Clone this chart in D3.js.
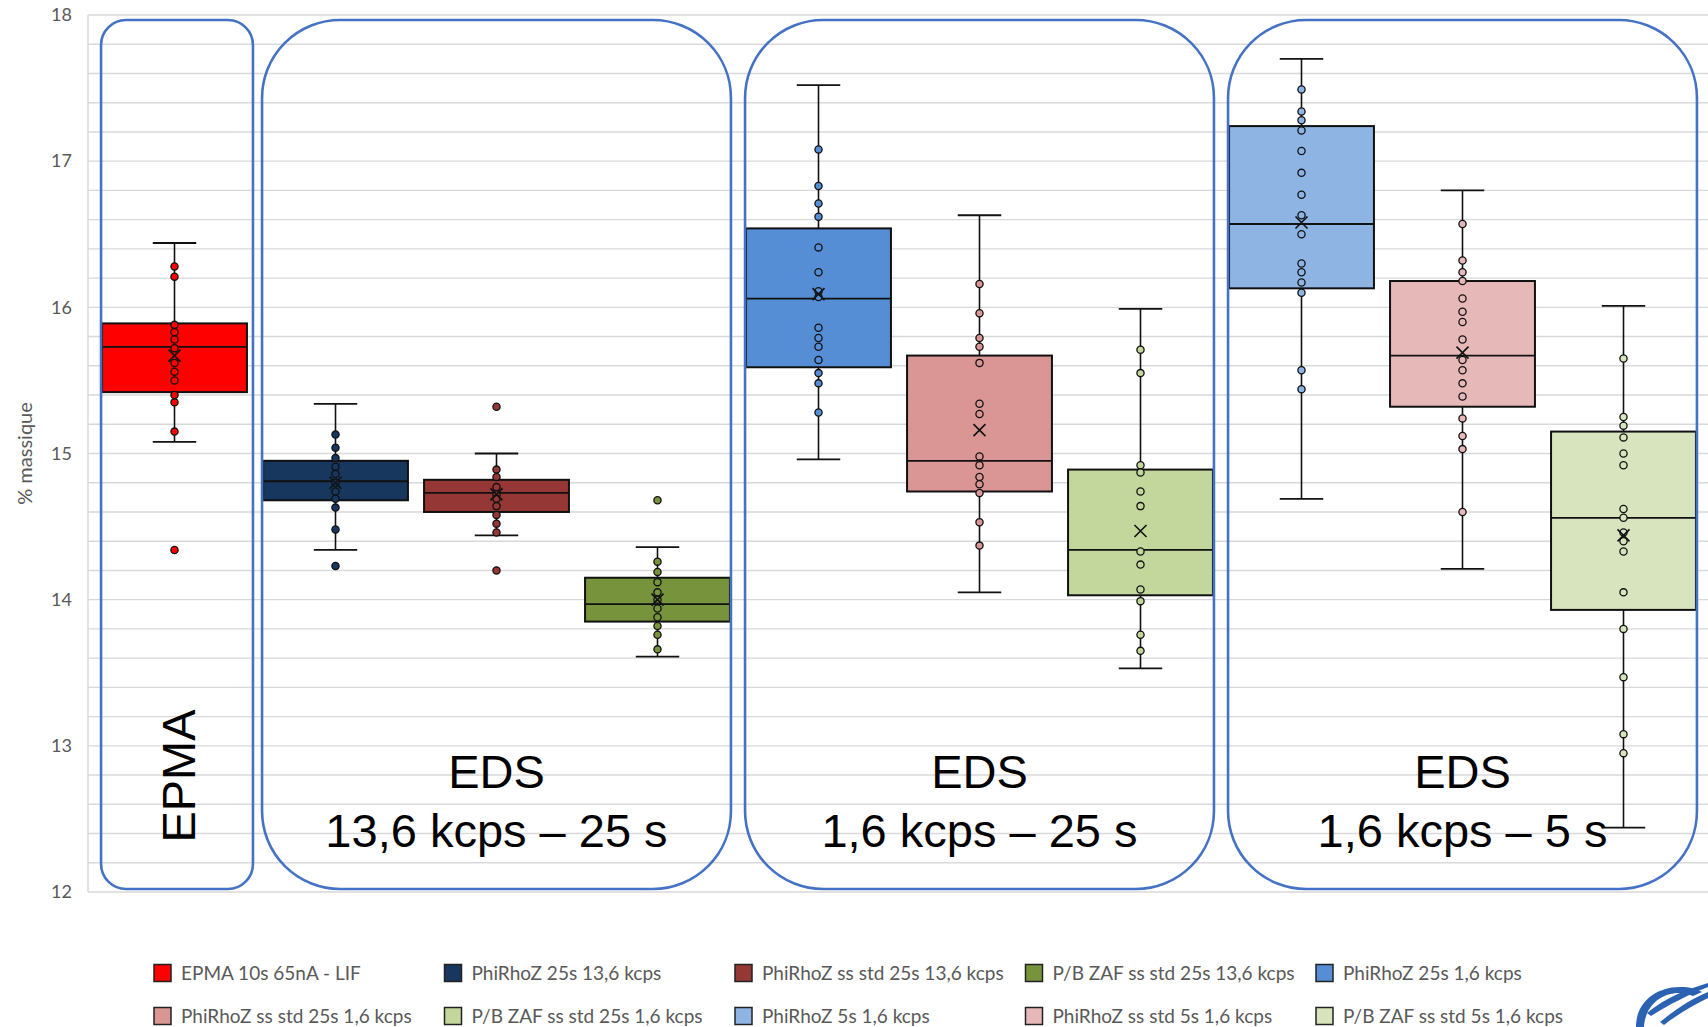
<!DOCTYPE html>
<html>
<head>
<meta charset="utf-8">
<script src="https://cdn.jsdelivr.net/npm/d3@7"></script>
<style>
  body { margin: 0; background: #fff; }
  svg { display: block; }
</style>
</head>
<body>
<div id="chart"></div>
<script>
// series, in the order of the legend
const series = [
  "EPMA 10s 65nA - LIF",
  "PhiRhoZ 25s 13,6 kcps",
  "PhiRhoZ ss std 25s 13,6 kcps",
  "P/B ZAF ss std 25s 13,6 kcps",
  "PhiRhoZ 25s 1,6 kcps",
  "PhiRhoZ ss std 25s 1,6 kcps",
  "P/B ZAF ss std 25s 1,6 kcps",
  "PhiRhoZ 5s 1,6 kcps",
  "PhiRhoZ ss std 5s 1,6 kcps",
  "P/B ZAF ss std 5s 1,6 kcps"
]
const colors = ["#FF0000", "#17375E", "#953735", "#77933C", "#558ED5",
                "#D99694", "#C3D69B", "#8EB4E3", "#E6B9B8", "#D7E4BD"]

// box statistics (% massique)
const whisker_low  = [15.08, 14.34, 14.44, 13.61, 14.96, 14.05, 13.53, 14.69, 14.21, 12.44]
const q1           = [15.42, 14.68, 14.60, 13.85, 15.59, 14.74, 14.03, 16.13, 15.32, 13.93]
const median       = [15.73, 14.81, 14.73, 13.97, 16.06, 14.95, 14.34, 16.57, 15.67, 14.56]
const q3           = [15.89, 14.95, 14.82, 14.15, 16.54, 15.67, 14.89, 17.24, 16.18, 15.15]
const whisker_high = [16.44, 15.34, 15.00, 14.36, 17.52, 16.63, 15.99, 17.70, 16.80, 16.01]
const means        = [15.67, 14.80, 14.72, 14.00, 16.09, 15.16, 14.47, 16.58, 15.69, 14.44]

// individual measurements shown as dots
const points = [
  [16.28, 16.21, 15.88, 15.83, 15.78, 15.72, 15.62, 15.56, 15.50, 15.40, 15.35, 15.15, 14.34],
  [15.13, 15.04, 14.97, 14.91, 14.86, 14.80, 14.74, 14.69, 14.63, 14.48, 14.23],
  [15.32, 14.89, 14.84, 14.77, 14.72, 14.69, 14.64, 14.58, 14.52, 14.46, 14.20],
  [14.68, 14.26, 14.19, 14.12, 14.05, 14.00, 13.94, 13.88, 13.82, 13.76, 13.66],
  [17.08, 16.83, 16.71, 16.62, 16.41, 16.24, 16.11, 16.07, 15.86, 15.79, 15.73, 15.64, 15.55, 15.48, 15.28],
  [16.16, 15.96, 15.79, 15.73, 15.62, 15.34, 15.27, 14.98, 14.92, 14.84, 14.79, 14.73, 14.53, 14.37],
  [15.71, 15.55, 14.92, 14.87, 14.74, 14.64, 14.33, 14.24, 14.07, 13.99, 13.76, 13.65],
  [17.49, 17.34, 17.28, 17.21, 17.07, 16.92, 16.77, 16.63, 16.50, 16.30, 16.24, 16.17, 16.10, 15.57, 15.44],
  [16.57, 16.32, 16.24, 16.18, 16.06, 15.97, 15.90, 15.78, 15.64, 15.57, 15.48, 15.39, 15.24, 15.12, 15.03, 14.60],
  [15.65, 15.25, 15.19, 15.11, 15.00, 14.92, 14.62, 14.56, 14.46, 14.40, 14.33, 14.05, 13.80, 13.47, 13.08, 12.95]
]

// framed groups of series and their captions
const group_first = [0, 1, 4, 7]
const group_last  = [0, 3, 6, 9]
const group_lines = [["EPMA"], ["EDS", "13,6 kcps \u2013 25 s"], ["EDS", "1,6 kcps \u2013 25 s"], ["EDS", "1,6 kcps \u2013 5 s"]]

const y_ticks = [12, 13, 14, 15, 16, 17, 18]

const width = 1708
const height = 1027
const label_font = "Lato, 'Open Sans', sans-serif"
const big_font = "'Liberation Sans', Arial, sans-serif"

const svg = d3.select("#chart").append("svg")
  .attr("width", width)
  .attr("height", height)

const x = d3.scaleBand()
  .domain(series)
  .range([94, 1704])
  .paddingInner(0.1)
  .paddingOuter(0.05)

const y = d3.scaleLinear()
  .domain([12, 18])
  .range([892, 15])

// gridlines every 0.2
const grid = svg.append("g").attr("class", "grid")
grid.selectAll("line")
  .data(d3.range(0, 31).map(i => 12 + i * 0.2))
  .join("line")
    .attr("x1", 88)
    .attr("x2", width)
    .attr("y1", d => y(d))
    .attr("y2", d => y(d))
    .attr("stroke", "#D9D9D9")
    .attr("stroke-width", 1.4)
grid.append("line")
  .attr("x1", 88).attr("x2", 88)
  .attr("y1", y(18)).attr("y2", y(12))
  .attr("stroke", "#D9D9D9")
  .attr("stroke-width", 1.4)

// y axis labels
const y_axis = svg.append("g")
  .attr("transform", "translate(80,0)")
  .call(d3.axisLeft(y).tickValues(y_ticks).tickFormat(d3.format("d")).tickSize(0).tickPadding(8))
y_axis.select(".domain").remove()
y_axis.selectAll("text")
  .attr("fill", "#595959")
  .style("font-family", label_font)
  .style("font-size", "18px")

svg.append("text")
  .attr("transform", `translate(25,${y(15) })rotate(-90)`)
  .attr("text-anchor", "middle")
  .attr("dy", "0.35em")
  .attr("fill", "#595959")
  .style("font-family", label_font)
  .style("font-size", "20px")
  .text("% massique")

// boxes
const bw = x.bandwidth()
const cap = bw * 0.3
const boxes = svg.append("g").attr("class", "boxes")
series.forEach((s, i) => {
  const g = boxes.append("g")
  const cx = x(s) + bw / 2
  // whiskers
  g.append("line")
    .attr("x1", cx).attr("x2", cx)
    .attr("y1", y(whisker_high[i])).attr("y2", y(whisker_low[i]))
    .attr("stroke", "#111").attr("stroke-width", 1.6)
  ;[whisker_low[i], whisker_high[i]].forEach(v => {
    g.append("line")
      .attr("x1", cx - cap / 2).attr("x2", cx + cap / 2)
      .attr("y1", y(v)).attr("y2", y(v))
      .attr("stroke", "#111").attr("stroke-width", 1.8)
  })
  g.append("rect")
    .attr("x", x(s))
    .attr("y", y(q3[i]))
    .attr("width", bw)
    .attr("height", y(q1[i]) - y(q3[i]))
    .attr("fill", colors[i])
    .attr("stroke", "#111")
    .attr("stroke-width", 2)
  g.append("line")
    .attr("x1", x(s)).attr("x2", x(s) + bw)
    .attr("y1", y(median[i])).attr("y2", y(median[i]))
    .attr("stroke", "#111").attr("stroke-width", 1.8)
  g.selectAll("circle")
    .data(points[i])
    .join("circle")
      .attr("cx", cx)
      .attr("cy", d => y(d))
      .attr("r", 3.6)
      .attr("fill", colors[i])
      .attr("stroke", "#111")
      .attr("stroke-width", 1.3)
  g.append("path")
    .attr("transform", `translate(${cx},${y(means[i])})`)
    .attr("d", "M-6,-6L6,6M-6,6L6,-6")
    .attr("stroke", "#111")
    .attr("stroke-width", 1.6)
    .attr("fill", "none")
})

// rounded frames with captions
const frames = svg.append("g").attr("class", "frames")
group_first.forEach((f, k) => {
  const x0 = x(series[f]) - 1
  const x1 = x(series[group_last[k]]) + bw + (f === group_last[k] ? 6 : 1)
  const r = f === group_last[k] ? 25 : 78
  frames.append("rect")
    .attr("x", x0)
    .attr("y", 20)
    .attr("width", x1 - x0)
    .attr("height", 869)
    .attr("rx", r)
    .attr("ry", r)
    .attr("fill", "none")
    .attr("stroke", "#4472C4")
    .attr("stroke-width", 2.6)
  const mid = (x0 + x1) / 2
  if (f === group_last[k]) {
    frames.append("text")
      .attr("transform", `translate(${mid + 18},776)rotate(-90)`)
      .attr("text-anchor", "middle")
      .attr("fill", "#000")
      .style("font-family", big_font)
      .style("font-size", "47px")
      .text(group_lines[k][0])
  } else {
    group_lines[k].forEach((t, j) => {
      frames.append("text")
        .attr("x", mid)
        .attr("y", 788 + j * 59)
        .attr("text-anchor", "middle")
        .attr("fill", "#000")
        .style("font-family", big_font)
        .style("font-size", "47px")
        .text(t)
    })
  }
})

// legend, two rows of five
const legend = svg.append("g").attr("class", "legend")
series.forEach((s, i) => {
  const lx = 154 + (i % 5) * 290.5
  const ly = 973 + Math.floor(i / 5) * 43
  legend.append("rect")
    .attr("x", lx)
    .attr("y", ly - 8.5)
    .attr("width", 17)
    .attr("height", 17)
    .attr("fill", colors[i])
    .attr("stroke", "#222")
    .attr("stroke-width", 1.5)
  legend.append("text")
    .attr("x", lx + 27)
    .attr("y", ly)
    .attr("dy", "0.35em")
    .attr("fill", "#595959")
    .style("font-family", label_font)
    .style("font-size", "19px")
    .text(s)
})

// corner logo (cut off by the edge)
const logo = svg.append("g").attr("fill", "#2B62B2")
logo.append("path")
  .attr("d", "M1636,1027 C1636,1003 1655,987 1680,987 C1690,987 1697,989 1702,992 L1693,996 C1688,994 1684,993 1679,993 C1660,993 1645,1007 1644,1027 Z")
logo.append("path")
  .attr("d", "M1647,1013 C1665,998 1685,990 1708,983 L1708,987 C1688,995 1668,1005 1651,1016 Z")
logo.append("path")
  .attr("d", "M1660,1022 C1677,1008 1693,998 1708,992 L1708,998 C1694,1005 1678,1014 1664,1025 Z")
</script>
</body>
</html>
